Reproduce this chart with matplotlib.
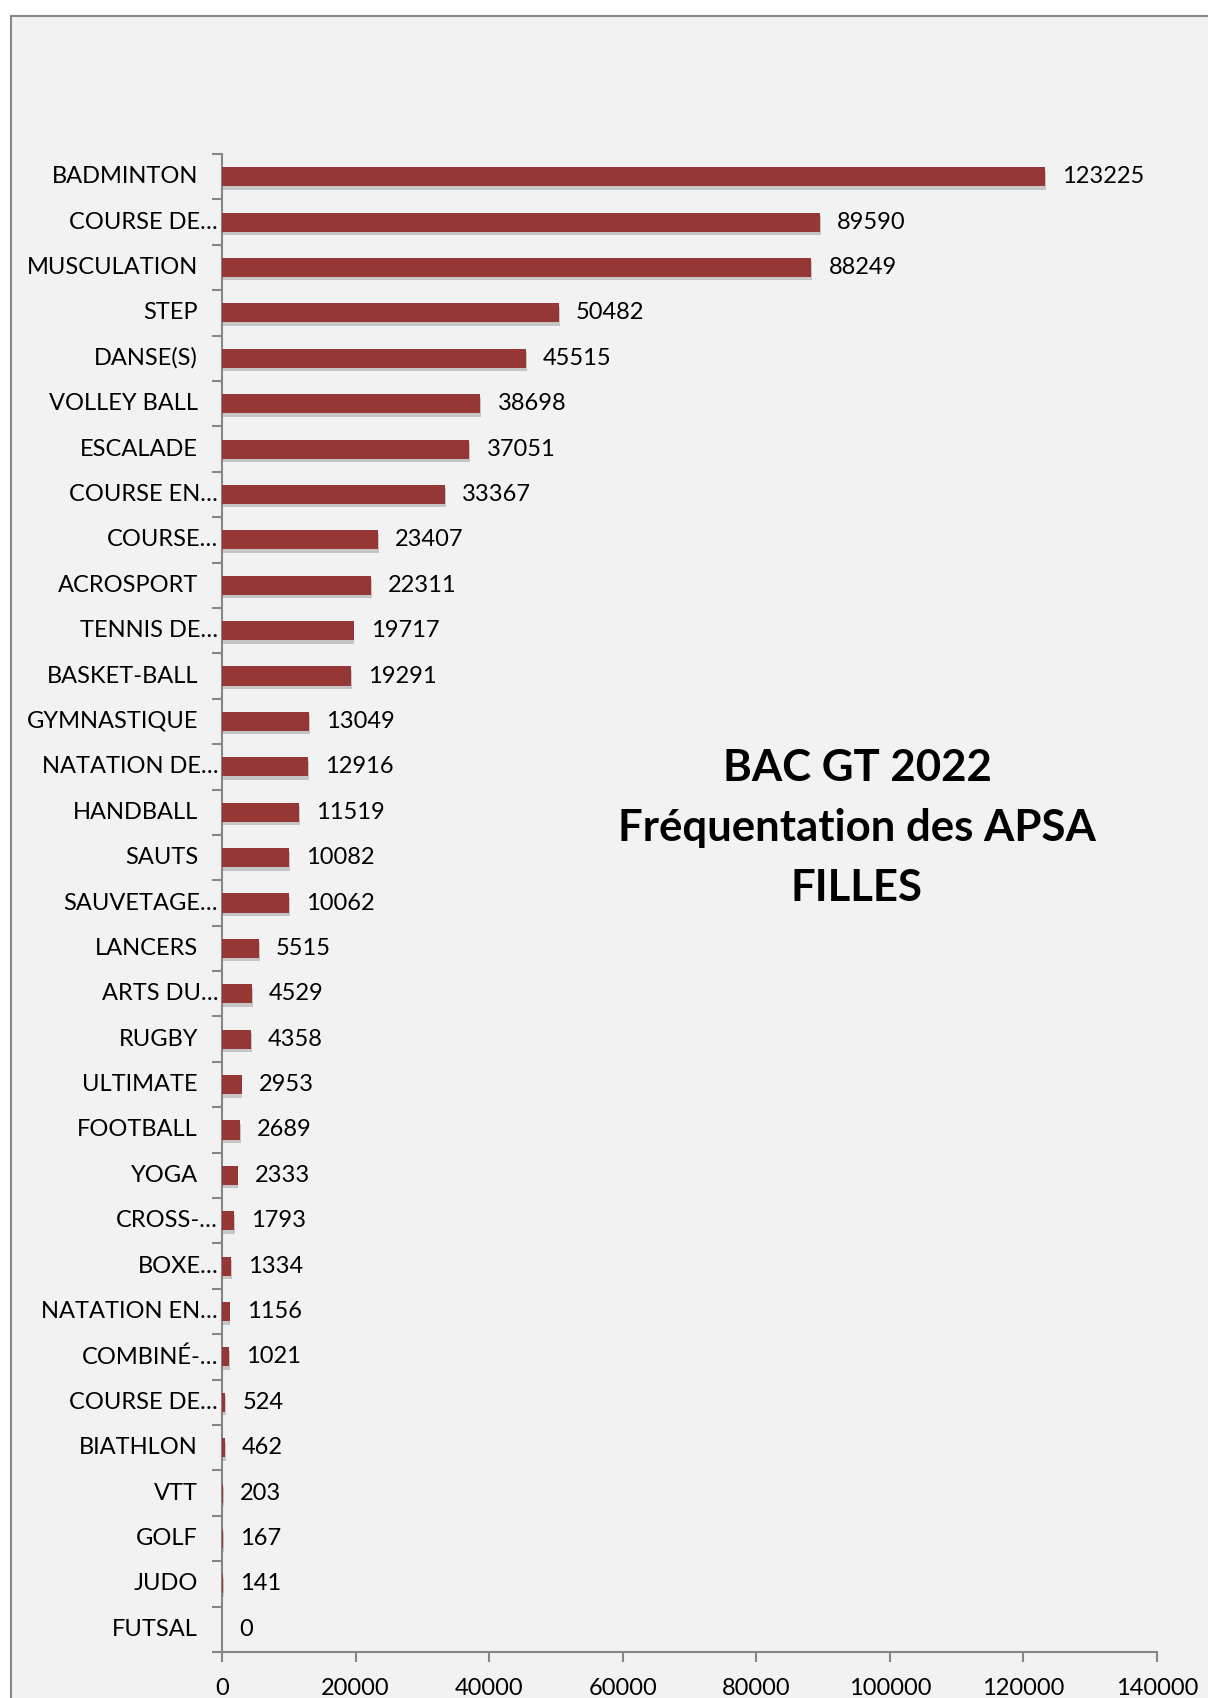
import matplotlib.pyplot as plt
import matplotlib.patheffects as pe
from matplotlib.patches import Rectangle
from matplotlib.transforms import offset_copy, blended_transform_factory

plt.rcParams['font.family'] = ['Lato', 'DejaVu Sans']

# categories, top to bottom
categories = [
    "BADMINTON", "COURSE DE…", "MUSCULATION", "STEP", "DANSE(S)",
    "VOLLEY BALL", "ESCALADE", "COURSE EN…", "COURSE…", "ACROSPORT",
    "TENNIS DE…", "BASKET-BALL", "GYMNASTIQUE", "NATATION DE…", "HANDBALL",
    "SAUTS", "SAUVETAGE…", "LANCERS", "ARTS DU…", "RUGBY",
    "ULTIMATE", "FOOTBALL", "YOGA", "CROSS-…", "BOXE…",
    "NATATION EN…", "COMBINÉ-…", "COURSE DE…", "BIATHLON", "VTT",
    "GOLF", "JUDO", "FUTSAL",
]
values = [
    123225, 89590, 88249, 50482, 45515,
    38698, 37051, 33367, 23407, 22311,
    19717, 19291, 13049, 12916, 11519,
    10082, 10062, 5515, 4529, 4358,
    2953, 2689, 2333, 1793, 1334,
    1156, 1021, 524, 462, 203,
    167, 141, 0,
]
xticks = [0, 20000, 40000, 60000, 80000, 100000, 120000, 140000]

bar_color = "#953735"
bg = "#f2f2f2"
axis_gray = "#868686"

W, H = 1208, 1698
fig = plt.figure(figsize=(W / 100, H / 100), dpi=100)
fig.patch.set_facecolor("white")

# chart area frame
fig.patches.append(Rectangle((11 / W, -0.01), 1.0, 1 - 16 / H + 0.01,
                             transform=fig.transFigure, facecolor=bg,
                             edgecolor=axis_gray, linewidth=1.5, zorder=-1))

ax = fig.add_axes([222 / W, 1 - 1652 / H, (1157 - 222) / W, (1652 - 154) / H])
ax.set_facecolor("none")
ax.set_zorder(2)

n = len(categories)
ypos = list(range(n - 1, -1, -1))
bars = ax.barh(ypos, values, height=0.42, color=bar_color, zorder=3)
for b in bars:
    b.set_path_effects([pe.SimplePatchShadow(offset=(0.5, -2.5), shadow_rgbFace="#9a9a9a", alpha=0.5),
                        pe.Normal()])

ax.set_xlim(0, 140000)
ax.set_ylim(-0.5, n - 0.5)

for s in ["top", "right"]:
    ax.spines[s].set_visible(False)
for s in ["left", "bottom"]:
    ax.spines[s].set_color(axis_gray)
    ax.spines[s].set_linewidth(1.5)

ax.set_xticks(xticks)
ax.set_xticklabels([str(t) for t in xticks], fontsize=17)
ax.tick_params(axis="x", length=7, width=1.5, color=axis_gray, pad=12)

# category ticks sit between categories
ax.set_yticks([i + 0.5 for i in range(-1, n)])
ax.set_yticklabels([])
ax.tick_params(axis="y", length=7, width=1.5, color=axis_gray)

trans = blended_transform_factory(ax.transAxes, ax.transData)
for y, lab in zip(ypos, categories):
    dx = -4 if lab.endswith("…") else -24
    t = offset_copy(trans, fig=fig, x=dx, y=0, units="dots")
    ax.text(0, y, lab, transform=t, ha="right", va="center", fontsize=17)

for y, v in zip(ypos, values):
    t = offset_copy(ax.transData, fig=fig, x=17, y=0, units="dots")
    ax.text(v, y, str(v), transform=t, ha="left", va="center", fontsize=17)

fig.text(857 / W, 1 - 828 / H, "BAC GT 2022\nFréquentation des APSA\nFILLES",
         ha="center", va="center", fontsize=31.5, fontweight="bold",
         linespacing=1.6)

fig.savefig("out.png", dpi=100)
